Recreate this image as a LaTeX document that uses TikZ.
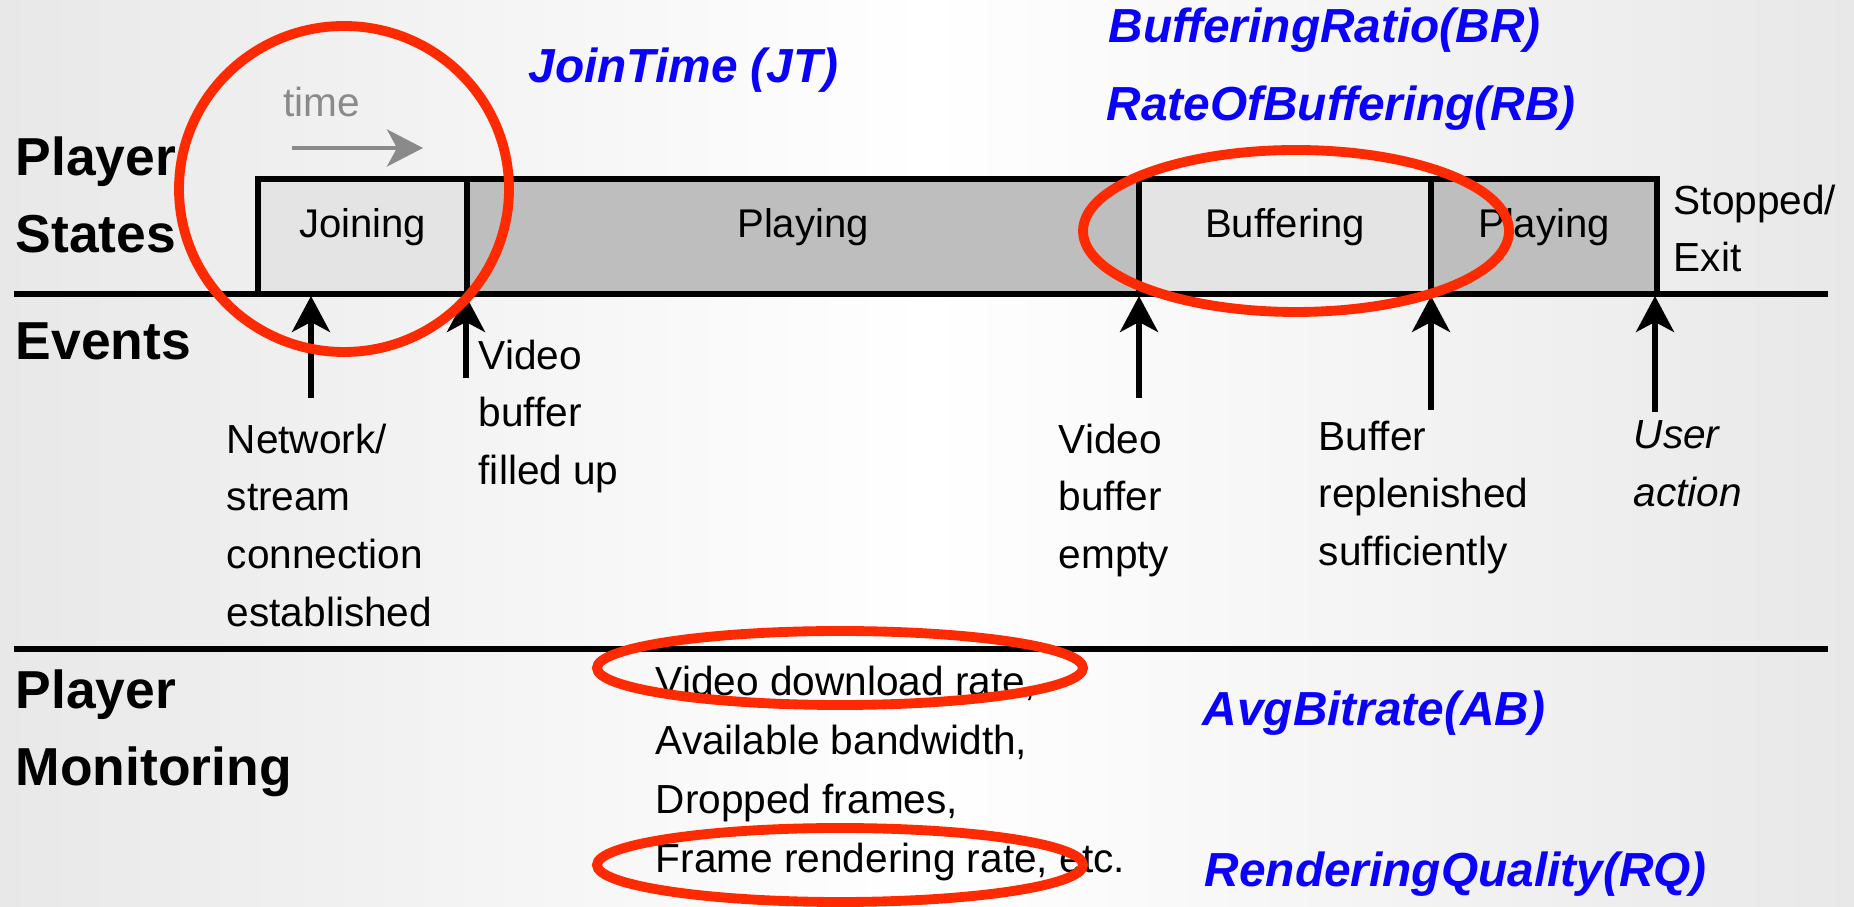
\documentclass[tikz,border=0pt]{standalone}
\usepackage{fontspec}
\setmainfont{Liberation Sans}
\usepackage{xcolor}
\usetikzlibrary{arrows.meta}
\definecolor{vlightgray}{HTML}{E4E4E4}
\definecolor{vmidgray}{HTML}{BEBEBE}
\definecolor{vtimegray}{HTML}{8A8A8A}
\definecolor{vbggray}{HTML}{E8E8E8}
\definecolor{vred}{HTML}{FF2A00}
\definecolor{vblue}{HTML}{0A00FF}

\tikzset{
	rowlabel/.style={font=\bfseries\fontsize{15.2pt}{21.9pt}\selectfont, inner sep=0, align=left},
	plain/.style={font=\fontsize{11.55pt}{16.4pt}\selectfont, inner sep=0, align=left},
	plainit/.style={plain, font=\itshape\fontsize{11.55pt}{16.4pt}\selectfont},
	listing/.style={plain, font=\fontsize{11.55pt}{16.85pt}\selectfont},
	metric/.style={font=\bfseries\itshape\fontsize{13.6pt}{15pt}\selectfont, text=vblue, inner sep=0, anchor=base west},
	state/.style={draw=black, line width=1.5pt, minimum height=1.15cm, inner sep=0, outer sep=0, anchor=south west, text height=0.29cm, text depth=0.26cm, font=\fontsize{11.4pt}{13pt}\selectfont},
	event/.style={-{Stealth[length=0.36cm,width=0.38cm,inset=0.1cm]}, line width=1.45pt},
	redring/.style={draw=vred, line width=2.8pt}
}

\begin{document}
\begin{tikzpicture}
		\shade[left color=vbggray, right color=vbggray, middle color=white] (0,0) rectangle (18.54,9.07);
		\useasboundingbox (0,0) rectangle (18.54,9.07);

		% player states bar
		\node[state, fill=vlightgray, minimum width=2.09cm] (joining) at (2.58,6.13) {Joining};
		\node[state, fill=vmidgray, minimum width=6.72cm] (playing) at (4.67,6.13) {Playing};
		\node[state, fill=vlightgray, minimum width=2.92cm] (buffering) at (11.39,6.13) {Buffering};
		\node[state, fill=vmidgray, minimum width=2.26cm] (replaying) at (14.31,6.13) {Playing};

		\draw[line width=1.5pt] (0.14,6.13) -- (18.28,6.13);
		\draw[line width=1.5pt] (0.14,2.58) -- (18.28,2.58);

		% time
		\node[plain, text=vtimegray, anchor=base] (timelbl) at (3.22,7.90) {time};
		\coordinate (T0) at (2.92,7.59);
		\coordinate (T1) at (4.23,7.59);
		\draw[color=vtimegray, line width=1.3pt, -{Stealth[length=0.36cm,width=0.37cm,inset=0.1cm]}] (T0) -- (T1);

		% row labels
		\node[rowlabel, anchor=north west] (stateslbl) at (0.15,7.71) {Player\\States};
		\node[rowlabel, anchor=base west] (eventslbl) at (0.15,5.47) {Events};
		\node[rowlabel, anchor=north west] (monitorlbl) at (0.15,2.38) {Player\\Monitoring};

		% events
		\coordinate (A0) at (3.11,5.09);
		\coordinate (A1) at (3.11,6.11);
		\coordinate (B0) at (4.66,5.29);
		\coordinate (B1) at (4.66,6.11);
		\coordinate (C0) at (11.39,5.09);
		\coordinate (C1) at (11.39,6.11);
		\coordinate (D0) at (14.31,4.97);
		\coordinate (D1) at (14.31,6.11);
		\coordinate (E0) at (16.55,4.95);
		\coordinate (E1) at (16.55,6.11);
		\draw[event] (A0) -- (A1);
		\draw[event] (B0) -- (B1);
		\draw[event] (C0) -- (C1);
		\draw[event] (D0) -- (D1);
		\draw[event] (E0) -- (E1);

		\node[plain, anchor=north west] (connectlbl) at (2.26,4.84) {Network/\\stream\\connection\\established};
		\node[plain, anchor=north west] (filledlbl) at (4.78,5.68) {Video\\buffer\\filled up};
		\node[plain, anchor=north west] (emptylbl) at (10.58,4.84) {Video\\buffer\\empty};
		\node[plain, anchor=north west] (refilllbl) at (13.18,4.87) {Buffer\\replenished\\sufficiently};
		\node[plainit, anchor=north west] (userlbl) at (16.33,4.87) {User\\action};
		\node[plain, anchor=north west] (exitlbl) at (16.73,7.23) {Stopped/\\Exit};

		% monitoring
		\node[listing, anchor=north west] (monlist) at (6.55,2.42) {Video download rate,\\Available bandwidth,\\Dropped frames,\\Frame rendering rate, etc.};

		% metrics
		\node[metric] (jt) at (5.28,8.24) {JoinTime (JT)};
		\node[metric] (br) at (11.08,8.64) {BufferingRatio(BR)};
		\node[metric] (rb) at (11.06,7.86) {RateOfBuffering(RB)};
		\node[metric] (ab) at (12.02,1.81) {AvgBitrate(AB)};
		\node[metric] (rq) at (12.04,0.20) {RenderingQuality(RQ)};

		% highlights
		\draw[redring] (3.44,7.18) ellipse (1.65 and 1.63);
		\draw[redring] (12.96,6.76) ellipse (2.13 and 0.81);
		\draw[redring] (8.40,2.39) ellipse (2.43 and 0.37);
		\draw[redring] (8.40,0.42) ellipse (2.43 and 0.37);
	\end{tikzpicture}
\end{document}
